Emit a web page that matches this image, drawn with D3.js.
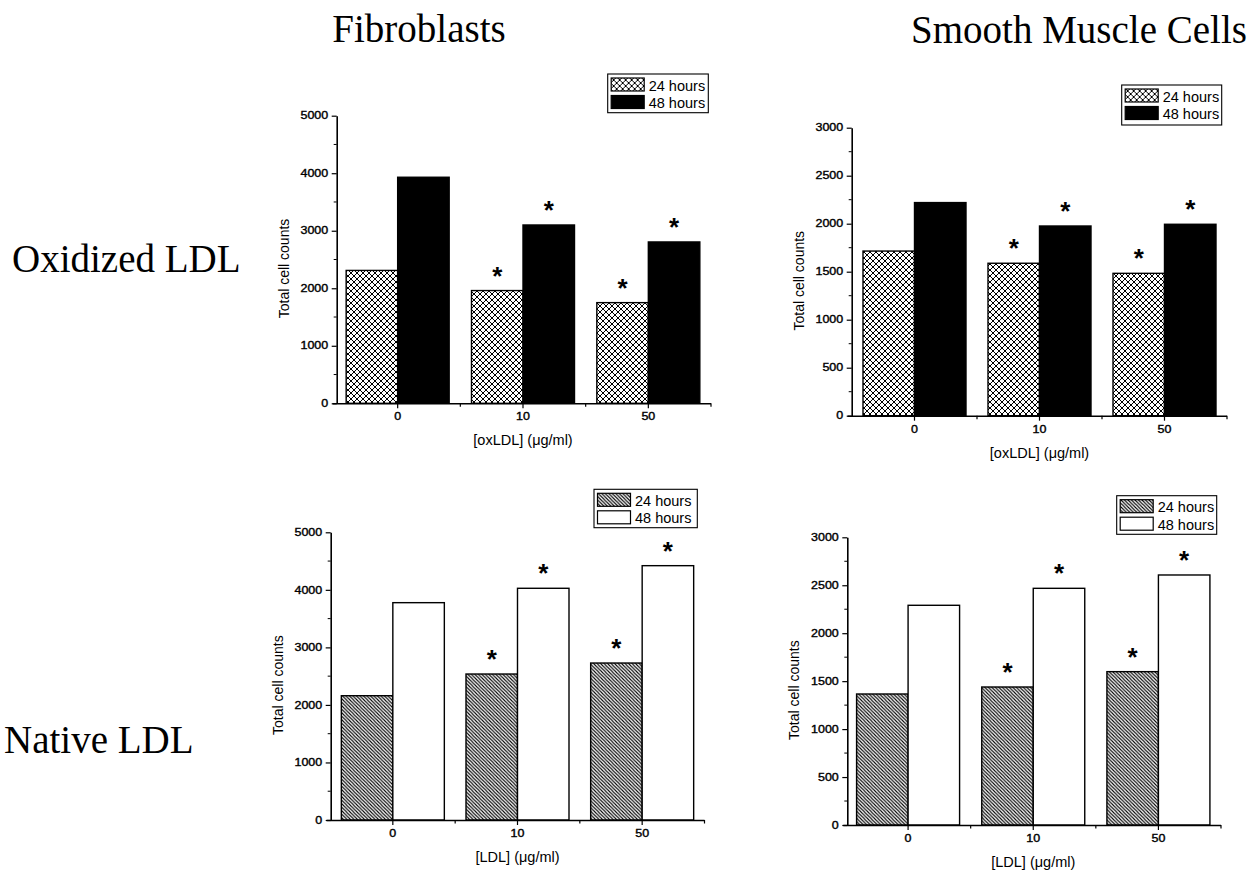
<!DOCTYPE html>
<html>
<head>
<meta charset="utf-8">
<script src="https://cdn.jsdelivr.net/npm/d3@7"></script>
<style>
  html, body { margin: 0; padding: 0; background: #fff; }
  svg { display: block; }
</style>
</head>
<body>
<script>
// ---------------- DATA ----------------
const categories = ["0", "10", "50"];
const seriesNames = ["24 hours", "48 hours"];

const fibOx24  = [2310, 1960, 1750];
const fibOx48  = [3930, 3100, 2805];
const smcOx24  = [1715, 1588, 1483];
const smcOx48  = [2220, 1976, 1994];
const fibNat24 = [2160, 2537, 2728];
const fibNat48 = [3777, 4027, 4420];
const smcNat24 = [1366, 1439, 1599];
const smcNat48 = [2291, 2468, 2607];

// significance markers (*) per category
const sig24 = [false, true, true];
const sig48 = [false, true, true];

const fibTicks = [0, 1000, 2000, 3000, 4000, 5000];
const smcTicks = [0, 500, 1000, 1500, 2000, 2500, 3000];

const colTitles = ["Fibroblasts", "Smooth Muscle Cells"];
const rowTitles = ["Oxidized LDL", "Native LDL"];
const yTitle = "Total cell counts";
const xTitles = ["[oxLDL] (\u03bcg/ml)", "[LDL] (\u03bcg/ml)"];

// ---------------- LAYOUT ----------------
const W = 1256, H = 875;
const svg = d3.select("body").append("svg").attr("width", W).attr("height", H);
const defs = svg.append("defs");

const cross = defs.append("pattern").attr("id", "cross")
  .attr("patternUnits", "userSpaceOnUse").attr("width", 6).attr("height", 6);
cross.append("rect").attr("width", 6).attr("height", 6).attr("fill", "#fff");
cross.append("path").attr("d", "M0,0L6,6M6,0L0,6M-1,5L1,7M5,-1L7,1M-1,1L1,-1M5,7L7,5")
  .attr("stroke", "#000").attr("stroke-width", 1);

const hatch = defs.append("pattern").attr("id", "hatch")
  .attr("patternUnits", "userSpaceOnUse").attr("width", 3.5).attr("height", 3.5);
hatch.append("rect").attr("width", 3.5).attr("height", 3.5).attr("fill", "#fff");
hatch.append("path").attr("d", "M-1,-1L4.5,4.5M2.5,-1L4.5,1M-1,2.5L1,4.5")
  .attr("stroke", "#000").attr("stroke-width", 1.1);

const panels = [
  { v24: fibOx24, v48: fibOx48, ticks: fibTicks, axL: 336.7, xr: [335, 711], y0: 403.3, yT: 115.7,
    f24: "url(#cross)", f48: "#000", xt: xTitles[0], leg: [607.7, 74, 100.6, 38.7] },
  { v24: smcOx24, v48: smcOx48, ticks: smcTicks, axL: 851.7, xr: [852, 1227], y0: 415.7, yT: 127.7,
    f24: "url(#cross)", f48: "#000", xt: xTitles[0], leg: [1121.7, 85, 100, 40] },
  { v24: fibNat24, v48: fibNat48, ticks: fibTicks, axL: 330.7, xr: [330.5, 704.5], y0: 820, yT: 532.3,
    f24: "url(#hatch)", f48: "#fff", xt: xTitles[1], leg: [594, 489.3, 103.3, 38.4] },
  { v24: smcNat24, v48: smcNat48, ticks: smcTicks, axL: 847.3, xr: [845.5, 1221], y0: 825, yT: 537.3,
    f24: "url(#hatch)", f48: "#fff", xt: xTitles[1], leg: [1116.7, 495.7, 100, 38.6] }
];

const sans = "'Liberation Sans', Arial, sans-serif";
const serif = "'Liberation Serif', 'Times New Roman', serif";
const tickScaleX = 1.25;
const barW = 51.5;

// titles
svg.append("text").attr("x", 419).attr("y", 42).attr("text-anchor", "middle")
  .attr("font-family", serif).attr("font-size", 39).text(colTitles[0]);
svg.append("text").attr("x", 1079).attr("y", 43).attr("text-anchor", "middle")
  .attr("font-family", serif).attr("font-size", 39).text(colTitles[1]);
svg.append("text").attr("x", 12).attr("y", 272)
  .attr("font-family", serif).attr("font-size", 39).text(rowTitles[0]);
svg.append("text").attr("x", 4).attr("y", 753)
  .attr("font-family", serif).attr("font-size", 39).text(rowTitles[1]);

panels.forEach(p => {
  const g = svg.append("g");
  const ymax = p.ticks[p.ticks.length - 1];
  const y = d3.scaleLinear().domain([0, ymax]).range([p.y0, p.yT]);
  const x = d3.scaleBand().domain(categories).range(p.xr);
  const inner = d3.scaleBand().domain(seriesNames).range([-barW, barW]);
  const step = p.ticks[1] - p.ticks[0];

  // bars
  const fills = [p.f24, p.f48];
  const vals = [p.v24, p.v48];
  seriesNames.forEach((s, si) => {
    g.selectAll(null).data(categories).enter().append("rect")
      .attr("x", c => x(c) + x.bandwidth() / 2 + inner(s))
      .attr("y", (c, i) => y(vals[si][i]))
      .attr("width", inner.bandwidth())
      .attr("height", (c, i) => y(0) - y(vals[si][i]))
      .attr("fill", fills[si]).attr("stroke", "#000").attr("stroke-width", 1.4);
  });

  // stars
  const sigs = [sig24, sig48];
  seriesNames.forEach((s, si) => {
    g.selectAll(null).data(categories.filter((c, i) => sigs[si][i])).enter().append("text")
      .attr("x", c => x(c) + x.bandwidth() / 2 + inner(s) + inner.bandwidth() / 2)
      .attr("y", c => y(vals[si][categories.indexOf(c)]) - 20 + 14)
      .attr("text-anchor", "middle").attr("font-family", sans).attr("font-weight", "bold")
      .attr("font-size", 26).text("*");
  });

  // y axis
  const ya = g.append("g").attr("transform", `translate(${p.axL},0)`)
    .call(d3.axisLeft(y).tickValues(p.ticks).tickSize(5).tickSizeOuter(0).tickFormat(d3.format("d")));
  ya.select(".domain").attr("stroke-width", 1.6);
  ya.selectAll(".tick line").attr("stroke-width", 1.2);
  ya.selectAll(".tick text").attr("font-family", sans).attr("font-size", 10)
    .attr("stroke", "#000").attr("stroke-width", 0.35)
    .attr("x", -8.5 / tickScaleX).attr("transform", `scale(${tickScaleX},1)`);
  // minor y ticks
  const minors = d3.range(step / 2, ymax, step);
  g.selectAll(null).data(minors).enter().append("line")
    .attr("x1", p.axL - 3).attr("x2", p.axL).attr("y1", d => y(d)).attr("y2", d => y(d))
    .attr("stroke", "#000").attr("stroke-width", 1);

  // x axis
  const xa = g.append("g").attr("transform", `translate(0,${p.y0})`)
    .call(d3.axisBottom(x).tickSize(5).tickSizeOuter(0).tickPadding(5));
  xa.select(".domain").attr("stroke-width", 1.6)
    .attr("d", `M${p.axL - 4},0.5H${p.xr[1]}`);
  xa.selectAll(".tick line").attr("stroke-width", 1.2);
  xa.selectAll(".tick text").attr("font-family", sans).attr("font-size", 10)
    .attr("stroke", "#000").attr("stroke-width", 0.35)
    .attr("transform", `scale(${tickScaleX},1)`);
  xa.selectAll(".tick").each(function (c) {
    const t = d3.select(this);
    const cx = x(c) + x.bandwidth() / 2;
    t.attr("transform", null);
    t.select("line").attr("x1", cx).attr("x2", cx);
    t.select("text").attr("x", cx / tickScaleX);
  });
  // minor x ticks at band boundaries
  g.selectAll(null).data(categories).enter().append("line")
    .attr("x1", c => x(c) + x.bandwidth()).attr("x2", c => x(c) + x.bandwidth())
    .attr("y1", p.y0).attr("y2", p.y0 + 3.5).attr("stroke", "#000").attr("stroke-width", 1.2);

  // axis titles
  g.append("text")
    .attr("transform", `translate(${p.axL - 48},${(p.y0 + p.yT) / 2 + 9}) rotate(-90)`)
    .attr("text-anchor", "middle").attr("font-family", sans).attr("font-size", 14).text(yTitle);
  g.append("text").attr("x", (p.xr[0] + p.xr[1]) / 2).attr("y", p.y0 + 42)
    .attr("text-anchor", "middle").attr("font-family", sans).attr("font-size", 14.5).text(p.xt);

  // legend
  const [lx, ly, lw, lh] = p.leg;
  const lg = g.append("g").attr("transform", `translate(${lx},${ly})`);
  lg.append("rect").attr("width", lw).attr("height", lh).attr("fill", "#fff")
    .attr("stroke", "#000").attr("stroke-width", 1.1);
  seriesNames.forEach((s, si) => {
    lg.append("rect").attr("x", 3.5).attr("y", 4 + si * 17.5).attr("width", 33).attr("height", 13)
      .attr("fill", fills[si]).attr("stroke", "#000").attr("stroke-width", 1.2);
    lg.append("text").attr("x", 41).attr("y", 16.7 + si * 17.2)
      .attr("font-family", sans).attr("font-size", 14.5).text(s);
  });
});
</script>
</body>
</html>
